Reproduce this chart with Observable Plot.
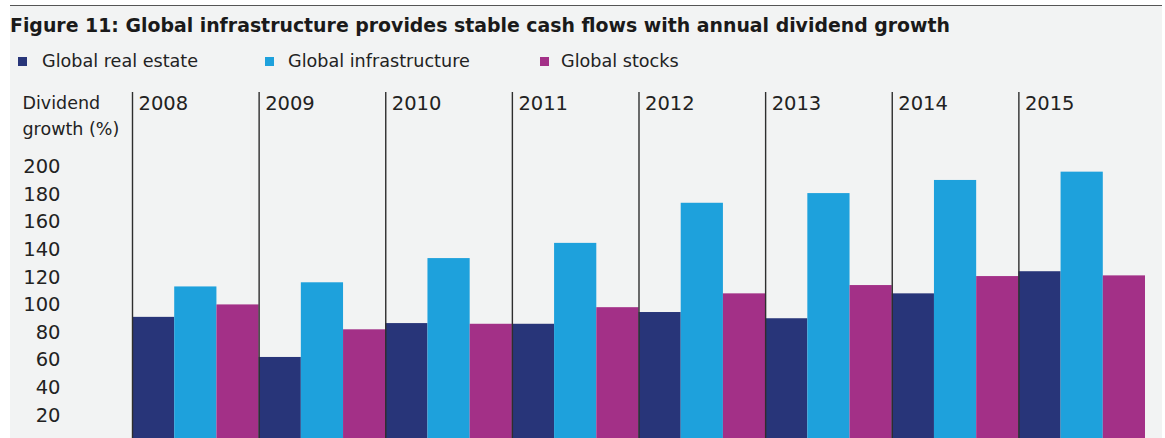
<!DOCTYPE html>
<html><head><meta charset="utf-8">
<script src="https://cdn.jsdelivr.net/npm/d3@7"></script>
<script src="https://cdn.jsdelivr.net/npm/@observablehq/plot@0.6"></script>
<style>
html,body{margin:0;padding:0;background:#fff;}
body{width:1165px;height:438px;overflow:hidden;position:relative;font-family:"DejaVu Sans",sans-serif;color:#222;}
#bg{position:absolute;left:10px;top:5px;width:1152px;height:433px;background:#f2f3f3;border-top:1.5px solid #555;}
#title{position:absolute;left:10px;top:14px;font-weight:bold;font-size:19px;line-height:22px;white-space:nowrap;transform-origin:0 0;color:#1a1a1a;}
.leg{position:absolute;top:51px;font-size:17.6px;line-height:20px;white-space:nowrap;}
.sw{position:absolute;top:57px;width:9px;height:9px;}
#chart{position:absolute;left:0;top:84px;}
</style></head><body>
<div id="bg"></div>
<div id="title">Figure 11: Global infrastructure provides stable cash flows with annual dividend growth</div>
<div id="legend"></div>
<div id="chart"></div>
<script>
const years = ["2008","2009","2010","2011","2012","2013","2014","2015"];
const series = ["Global real estate","Global infrastructure","Global stocks"];
const realEstate = [91, 62, 86.5, 86, 94.5, 90, 108, 124];
const infrastructure = [113, 116, 133.5, 144.5, 173.5, 180.5, 190, 196];
const stocks = [100, 82, 86, 98, 108, 114, 120.5, 121];
const colors = ["#283579", "#1ea1dc", "#a33087"];
const yTicks = [20, 40, 60, 80, 100, 120, 140, 160, 180, 200];
const axisLabel = "Dividend\ngrowth (%)";

// title fit
const t = document.getElementById("title");
const tw = t.getBoundingClientRect().width;
t.style.transform = `scaleX(${940 / tw})`;

// legend
const legendX = [[18, 42], [265, 288], [540, 561]];
const legend = document.getElementById("legend");
series.forEach((s, k) => {
  const sw = document.createElement("div");
  sw.className = "sw"; sw.style.left = legendX[k][0] + "px"; sw.style.background = colors[k];
  legend.appendChild(sw);
  const tx = document.createElement("div");
  tx.className = "leg"; tx.style.left = legendX[k][1] + "px"; tx.textContent = s;
  legend.appendChild(tx);
});

const valuesBySeries = [realEstate, infrastructure, stocks];
const rows = [];
years.forEach((y, i) => series.forEach((s, k) => rows.push({year: y, series: s, i, k, value: valuesBySeries[k][i]})));
const idx = years.map((d, i) => i);

const chart = Plot.plot({
  width: 1165,
  height: 354,
  marginLeft: 132,
  marginRight: 20,
  marginTop: 8,
  marginBottom: 0,
  style: {background: "transparent", fontFamily: "DejaVu Sans", fontSize: "19.5px", color: "#222"},
  x: {type: "linear", domain: [0, years.length], axis: null},
  y: {domain: [3.4, 253.6], ticks: yTicks, tickSize: 0, tickPadding: 72, label: null},
  color: {domain: series, range: colors},
  marks: [
    Plot.rectY(rows, {x1: d => d.i + d.k / 3, x2: d => d.i + (d.k + 1) / 3, y1: 0, y2: "value", fill: "series", clip: true}),
    Plot.ruleX(idx, {x: d => d, stroke: "#2e2e2e", strokeWidth: 1.4}),
    Plot.text(years, {x: (d, i) => i, text: d => d, frameAnchor: "top", dy: 4, dx: 6, textAnchor: "start", fontSize: 19.5, fill: "#222"}),
    Plot.text([axisLabel], {frameAnchor: "top-left", text: d => d, dx: -110, dy: -2, textAnchor: "start", lineAnchor: "top", fontSize: 17.5, lineHeight: 1.5, fill: "#222"})
  ]
});
document.getElementById("chart").appendChild(chart);
</script>
</body></html>
